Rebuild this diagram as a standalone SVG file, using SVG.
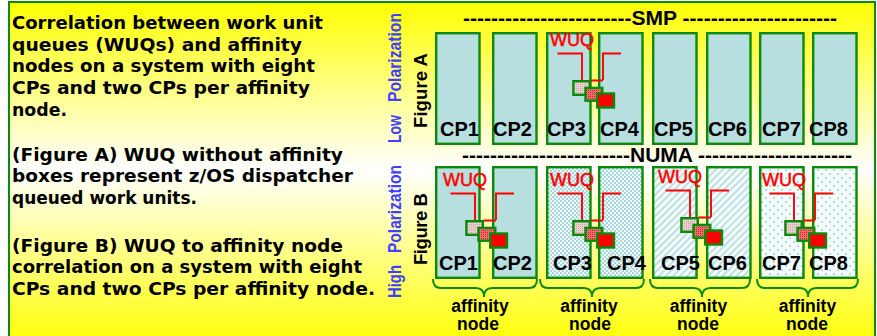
<svg xmlns="http://www.w3.org/2000/svg" width="877" height="336" viewBox="0 0 877 336">
<defs>
  <linearGradient id="bg" x1="0" y1="2" x2="0" y2="336" gradientUnits="userSpaceOnUse">
    <stop offset="0" stop-color="#ffff00"/>
    <stop offset="0.5" stop-color="#ffffff"/>
    <stop offset="1" stop-color="#ffff10"/>
  </linearGradient>
  <pattern id="chk" width="4" height="4" patternUnits="userSpaceOnUse">
    <rect width="4" height="4" fill="#eef8f8"/>
    <rect width="2" height="2" fill="#a9d6da"/>
    <rect x="2" y="2" width="2" height="2" fill="#a9d6da"/>
  </pattern>
  <pattern id="diag" width="5" height="5" patternUnits="userSpaceOnUse" patternTransform="rotate(45)">
    <rect width="5" height="5" fill="#f4fbfb"/>
    <rect width="2" height="5" fill="#bfe0e3"/>
  </pattern>
  <pattern id="dots" width="8" height="8" patternUnits="userSpaceOnUse">
    <rect width="8" height="8" fill="#f4fbfb"/>
    <circle cx="2" cy="2" r="0.9" fill="#98cdd4"/>
    <circle cx="6" cy="6" r="0.9" fill="#98cdd4"/>
  </pattern>
  <pattern id="pk" width="2" height="2" patternUnits="userSpaceOnUse">
    <rect width="2" height="2" fill="#ecd0d0"/>
    <rect width="1" height="1" fill="#c4a8a8"/>
  </pattern>
  <pattern id="rd" width="2" height="2" patternUnits="userSpaceOnUse">
    <rect width="2" height="2" fill="#f07070"/>
    <rect width="1" height="1" fill="#d02020"/>
  </pattern>
  <g id="wuq">
    <text x="550" y="46" class="wuqt">WUQ</text>
    <path class="red" d="M557.5,53.5 H582 V80 M621,53.5 H603 V80 M590.5,80.5 H603"/>
    <rect class="sq" x="573.4" y="81.2" width="16.4" height="13.6" fill="url(#pk)"/>
    <rect class="sq" x="585.5" y="87.9" width="16.8" height="12.8" fill="url(#rd)"/>
    <rect class="sq" x="597.2" y="93.5" width="16.8" height="14" fill="#ff0000"/>
  </g>
</defs>
<style>
  .lt { font-family: "DejaVu Sans", "Liberation Sans", sans-serif; font-weight: bold; font-size: 18px; fill: #000; }
  .cp { fill: #b8dfe0; stroke: #0a8a0a; stroke-width: 2.4; }
  .cpl { font-family: "Liberation Sans", Arial, sans-serif; font-weight: bold; font-size: 20px; fill: #000; }
  .hd { font-family: "Liberation Sans", Arial, sans-serif; font-weight: bold; font-size: 21px; fill: #000; }
  .pol { font-family: "Liberation Sans", Arial, sans-serif; font-weight: bold; font-size: 18px; fill: #4040ff; }
  .fig { font-family: "Liberation Sans", Arial, sans-serif; font-weight: bold; font-size: 18.5px; fill: #000; }
  .wuqt { font-family: "Liberation Sans", Arial, sans-serif; font-size: 18px; fill: #ff0000; stroke: #ff0000; stroke-width: 0.5; }
  .red { fill: none; stroke: #ff0000; stroke-width: 1.9; }
  .sq { stroke: #0a8a0a; stroke-width: 2.4; }
  .brace { fill: none; stroke: #0a8a0a; stroke-width: 2; }
  .aff { font-family: "Liberation Sans", Arial, sans-serif; font-weight: bold; font-size: 17.5px; fill: #000; text-anchor: middle; }
</style>

<rect x="9" y="2" width="866" height="350" fill="url(#bg)" stroke="#0a8a0a" stroke-width="2"/>

<g id="description">
  <text class="lt" x="12" y="29" textLength="311" lengthAdjust="spacingAndGlyphs">Correlation between work unit</text>
  <text class="lt" x="12" y="50.7" textLength="290" lengthAdjust="spacingAndGlyphs">queues (WUQs) and affinity</text>
  <text class="lt" x="12" y="72.4" textLength="303" lengthAdjust="spacingAndGlyphs">nodes on a system with eight</text>
  <text class="lt" x="12" y="94.1" textLength="298" lengthAdjust="spacingAndGlyphs">CPs and two CPs per affinity</text>
  <text class="lt" x="12" y="115.8" textLength="55" lengthAdjust="spacingAndGlyphs">node.</text>
  <text class="lt" x="12" y="160.7" textLength="331" lengthAdjust="spacingAndGlyphs">(Figure A) WUQ without affinity</text>
  <text class="lt" x="12" y="182.4" textLength="341" lengthAdjust="spacingAndGlyphs">boxes represent z/OS dispatcher</text>
  <text class="lt" x="12" y="204.1" textLength="185" lengthAdjust="spacingAndGlyphs">queued work units.</text>
  <text class="lt" x="12" y="251.5" textLength="331" lengthAdjust="spacingAndGlyphs">(Figure B) WUQ to affinity node</text>
  <text class="lt" x="12" y="273.2" textLength="350" lengthAdjust="spacingAndGlyphs">correlation on a system with eight</text>
  <text class="lt" x="12" y="294.9" textLength="363" lengthAdjust="spacingAndGlyphs">CPs and two CPs per affinity node.</text>
</g>

<g id="side-labels">
  <text class="pol" transform="translate(401,143) rotate(-90)" textLength="28" lengthAdjust="spacingAndGlyphs">Low</text>
  <text class="pol" transform="translate(401,102) rotate(-90)" textLength="89" lengthAdjust="spacingAndGlyphs">Polarization</text>
  <text class="pol" transform="translate(401,298) rotate(-90)" textLength="33" lengthAdjust="spacingAndGlyphs">High</text>
  <text class="pol" transform="translate(401,253) rotate(-90)" textLength="88" lengthAdjust="spacingAndGlyphs">Polarization</text>
  <text class="fig" transform="translate(427,128) rotate(-90)" textLength="75">Figure A</text>
  <text class="fig" transform="translate(427,265) rotate(-90)" textLength="72">Figure B</text>
</g>

<g id="headers">
  <text class="hd" x="463" y="25" textLength="374">------------------------SMP ----------------------</text>
  <text class="hd" x="462" y="162" textLength="390">------------------------NUMA ----------------------</text>
</g>

<g id="figureA">
  <g id="A-CP1"><rect class="cp" x="436.2" y="33.2" width="43.3" height="110.6"/><text class="cpl" x="440" y="136">CP1</text></g>
  <g id="A-CP2"><rect class="cp" x="493.2" y="33.2" width="43.3" height="110.6"/><text class="cpl" x="493" y="136">CP2</text></g>
  <g id="A-CP3"><rect class="cp" x="547.2" y="33.2" width="43.3" height="110.6"/><text class="cpl" x="547" y="136">CP3</text></g>
  <g id="A-CP4"><rect class="cp" x="599.2" y="33.2" width="43.3" height="110.6"/><text class="cpl" x="600" y="136">CP4</text></g>
  <g id="A-CP5"><rect class="cp" x="653.2" y="33.2" width="43.3" height="110.6"/><text class="cpl" x="654" y="136">CP5</text></g>
  <g id="A-CP6"><rect class="cp" x="707.2" y="33.2" width="43.3" height="110.6"/><text class="cpl" x="708" y="136">CP6</text></g>
  <g id="A-CP7"><rect class="cp" x="760.2" y="33.2" width="43.3" height="110.6"/><text class="cpl" x="762" y="136">CP7</text></g>
  <g id="A-CP8"><rect class="cp" x="813.2" y="33.2" width="43.3" height="110.6"/><text class="cpl" x="809" y="136">CP8</text></g>
</g>

<g id="figureB">
  <g id="B-CP1"><rect class="cp" x="436.2" y="167.2" width="43.3" height="110.6"/><text class="cpl" x="439" y="270">CP1</text></g>
  <g id="B-CP2"><rect class="cp" x="493.2" y="167.2" width="43.3" height="110.6"/><text class="cpl" x="493" y="270">CP2</text></g>
  <g id="B-CP3"><rect class="cp" x="547.2" y="167.2" width="43.3" height="110.6" style="fill:url(#chk)"/><text class="cpl" x="553" y="270">CP3</text></g>
  <g id="B-CP4"><rect class="cp" x="599.2" y="167.2" width="43.3" height="110.6" style="fill:url(#chk)"/><text class="cpl" x="607" y="270">CP4</text></g>
  <g id="B-CP5"><rect class="cp" x="653.2" y="167.2" width="43.3" height="110.6" style="fill:url(#diag)"/><text class="cpl" x="661" y="270">CP5</text></g>
  <g id="B-CP6"><rect class="cp" x="707.2" y="167.2" width="43.3" height="110.6" style="fill:url(#diag)"/><text class="cpl" x="708" y="270">CP6</text></g>
  <g id="B-CP7"><rect class="cp" x="760.2" y="167.2" width="43.3" height="110.6" style="fill:url(#dots)"/><text class="cpl" x="762" y="270">CP7</text></g>
  <g id="B-CP8"><rect class="cp" x="813.2" y="167.2" width="43.3" height="110.6" style="fill:url(#dots)"/><text class="cpl" x="809" y="270">CP8</text></g>
</g>

<g id="connectors">
  <use href="#wuq"/>
  <use href="#wuq" transform="translate(-107,140)"/>
  <use href="#wuq" transform="translate(0,140)"/>
  <use href="#wuq" transform="translate(108,137)"/>
  <use href="#wuq" transform="translate(212,140)"/>
</g>

<g id="affinity-nodes">
  <g id="node1">
    <path class="brace" d="M433,279 Q433,288 441,288 L476,288 Q484,288 484,297 Q484,288 492,288 L529,288 Q537,288 537,279"/>
    <text class="aff" x="480" y="311.5">affinity</text><text class="aff" x="478" y="330">node</text>
  </g>
  <g id="node2">
    <path class="brace" d="M540,279 Q540,288 548,288 L584,288 Q592,288 592,297 Q592,288 600,288 L636,288 Q644,288 644,279"/>
    <text class="aff" x="589" y="311.5">affinity</text><text class="aff" x="590" y="330">node</text>
  </g>
  <g id="node3">
    <path class="brace" d="M650,279 Q650,288 658,288 L694,288 Q702,288 702,297 Q702,288 710,288 L742,288 Q750,288 750,279"/>
    <text class="aff" x="698.5" y="311.5">affinity</text><text class="aff" x="698" y="330">node</text>
  </g>
  <g id="node4">
    <path class="brace" d="M757,279 Q757,288 765,288 L800,288 Q808,288 808,297 Q808,288 816,288 L850,288 Q858,288 858,279"/>
    <text class="aff" x="807.5" y="311.5">affinity</text><text class="aff" x="807" y="330">node</text>
  </g>
</g>
</svg>
